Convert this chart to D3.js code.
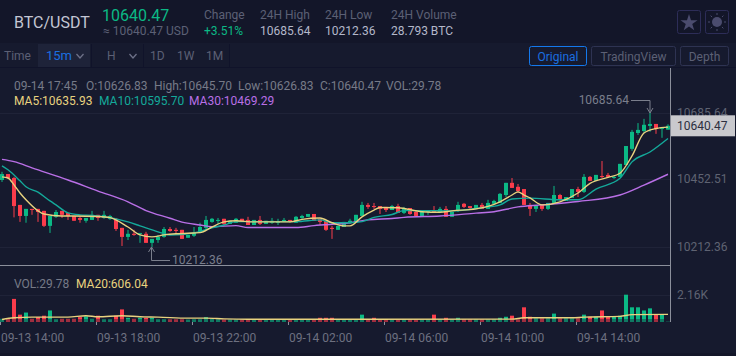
<!DOCTYPE html>
<html>
<head>
<meta charset="utf-8">
<script src="https://cdn.jsdelivr.net/npm/d3@7"></script>
<style>
html, body { margin: 0; padding: 0; background: #161a2e; overflow: hidden; }
svg { display: block; }
text { font-family: Roboto, sans-serif; }
</style>
</head>
<body>
<div id="chart"></div>
<script>
var w = 736;
var h = 356;

var opens = [10449,10470,10456,10361,10322,10347,10347,10340,10287,10319,
    10340,10333,10322,10315,10305,10308,10326,10315,10312,10312,
    10280,10248,10259,10259,10259,10227,10237,10248,10276,10273,
    10273,10245,10252,10262,10280,10301,10306,10312,10294,10298,
    10312,10308,10290,10308,10294,10298,10300,10301,10308,10298,
    10315,10319,10329,10312,10305,10280,10273,10283,10298,10298,
    10322,10361,10357,10357,10354,10343,10357,10333,10350,10336,
    10322,10336,10340,10336,10347,10319,10340,10365,10357,10350,
    10361,10347,10365,10368,10396,10439,10425,10417,10361,10347,
    10361,10347,10368,10396,10375,10386,10417,10407,10460,10446,
    10463,10467,10456,10460,10502,10559,10615,10622,10640,10647,10630,10626.83];
var closes = [10470,10456,10357,10322,10347,10343,10336,10287,10322,10336,
    10326,10322,10305,10308,10315,10326,10315,10326,10322,10276,
    10248,10259,10255,10262,10227,10241,10248,10276,10269,10269,
    10241,10255,10262,10283,10308,10312,10308,10294,10305,10312,
    10301,10290,10308,10294,10305,10305,10301,10308,10301,10319,
    10322,10329,10305,10301,10273,10276,10287,10301,10305,10326,
    10361,10354,10354,10347,10343,10357,10333,10350,10329,10322,
    10336,10340,10336,10347,10319,10336,10361,10354,10350,10361,
    10347,10368,10375,10400,10439,10421,10410,10361,10347,10361,
    10347,10368,10396,10382,10389,10417,10407,10460,10446,10467,
    10460,10460,10460,10506,10569,10619,10626,10644,10647,10629,10633,10640.47];
var highs = [10478,10470,10460,10361,10347,10347,10347,10340,10322,10343,
    10340,10333,10322,10322,10315,10340,10326,10340,10326,10315,
    10280,10273,10273,10262,10266,10241,10255,10283,10283,10280,
    10273,10255,10283,10298,10322,10315,10315,10312,10305,10315,
    10312,10319,10308,10322,10305,10315,10312,10315,10308,10322,
    10326,10329,10329,10312,10305,10287,10287,10301,10312,10326,
    10372,10368,10368,10357,10354,10361,10365,10354,10350,10340,
    10336,10343,10357,10354,10357,10336,10372,10368,10357,10361,
    10368,10379,10379,10403,10439,10456,10435,10417,10368,10361,
    10361,10368,10428,10400,10389,10417,10425,10470,10463,10467,
    10516,10474,10463,10506,10569,10626,10650,10665,10685.64,10647,10633,10645.70];
var lows = [10442,10453,10317,10301,10298,10326,10301,10283,10262,10315,
    10315,10308,10305,10298,10298,10308,10305,10312,10308,10269,
    10216,10237,10252,10227,10227,10212.36,10227,10245,10266,10262,
    10241,10245,10248,10262,10276,10298,10294,10287,10294,10298,
    10301,10290,10290,10290,10294,10294,10290,10301,10298,10298,
    10312,10319,10305,10290,10269,10241,10273,10283,10294,10298,
    10322,10347,10347,10329,10336,10343,10333,10329,10326,10319,
    10322,10326,10333,10336,10319,10319,10336,10350,10343,10350,
    10347,10347,10365,10368,10389,10421,10403,10361,10322,10336,
    10340,10343,10365,10375,10375,10386,10389,10403,10446,10446,
    10456,10456,10453,10460,10502,10552,10608,10615,10619,10612,10598,10626.83];
var volumes = [250,250,1848,588,756,252,392,504,924,220,
    252,252,252,392,448,252,504,220,220,504,
    1008,336,252,336,336,336,220,224,220,220,
    220,200,224,224,392,252,224,200,200,200,
    200,200,200,200,200,200,200,200,200,224,
    200,224,224,336,336,336,220,220,220,224,
    588,224,336,220,220,220,200,200,200,200,
    200,220,588,220,336,220,336,224,220,220,
    220,220,224,336,420,504,224,1176,420,280,
    280,280,672,280,280,280,280,588,420,420,
    924,420,420,504,2184,1176,1176,924,1092,588,588,29.78];

var ma5At = [0,1,2,3,4,6,7,10,12,16,18,21,23,25,27,29,32,33,35,37,39,42,45,48,50,53,55,57,58,60,62,63,66,70,73,75,79,81,83,85,86,87,88,90,93,96,98,101,103,105,107,109,111];
var ma5 = [10460,10456,10432,10403,10379,10340,10329,10322,10322,10320,10316,10283,10255,10248,10255,10259,10262,10263,10283,10301,10305,10301,10301,10301,10310,10315,10298,10287,10287,10319,10343,10352,10351,10337,10335,10340,10347,10356,10372,10396,10407,10396,10386,10361,10372,10403,10437,10458,10473,10534,10615,10631,10635.93];
var ma10At = [0,1,3,4,6,8,9,11,13,15,17,21,23,26,28,32,35,37,39,45,49,53,55,58,60,62,65,67,70,75,80,83,85,88,93,96,99,103,105,108,111];
var ma10 = [10499,10485,10446,10425,10406,10375,10361,10333,10326,10324,10319,10301,10287,10266,10255,10262,10280,10290,10302,10302,10302,10308,10298,10298,10302,10317,10327,10341,10341,10340,10351,10361,10382,10385,10379,10379,10417,10455,10513,10548,10595.70];
var ma30At = [0,2,5,11,16,21,24,28,30,33,35,39,41,49,52,58,61,65,67,73,79,82,86,90,96,103,107,111];
var ma30 = [10522,10514,10492,10449,10410,10372,10341,10314,10300,10290,10284,10288,10281,10281,10288,10298,10308,10313,10317,10322,10332,10337,10354,10361,10373,10396,10431,10469.29];
var volMaAt = [0,2,5,11,14,16,20,23,26,31,34,37,41,49,61,85,87,95,97,103,105,111];
var volMa = [196,336,392,392,504,420,504,420,392,308,308,252,220,220,220,230,336,336,392,448,588,606.04];

var priceTicks = [10212.36, 10452.51, 10685.64];
var volumeTicks = [2160];
var timeTicks = [0, 16, 32, 48, 64, 80, 96];
var timeLabels = ["09-13 14:00", "09-13 18:00", "09-13 22:00", "09-14 02:00", "09-14 06:00", "09-14 10:00", "09-14 14:00"];

var green = "#0bb985";
var red = "#fa3c4b";
var dim = "#5c6075";
var lineGrey = "#8b8f9b";
var gridColor = "#1f2338";
var colorMa5 = "#e8d27f";
var colorMa10 = "#14a99a";
var colorMa30 = "#b96fe6";

var svg = d3.select("#chart")
    .append("svg")
    .attr("width", w)
    .attr("height", h);

// backgrounds
svg.append("rect").attr("width", w).attr("height", h).attr("fill", "#161a2e");
svg.append("rect").attr("width", w).attr("height", 43).attr("fill", "#131629");
svg.append("rect").attr("y", 353).attr("width", w).attr("height", 3).attr("fill", "#131629");
svg.append("rect").attr("y", 67).attr("width", w).attr("height", 1).attr("fill", "#10132a");

function label(x, y, str, color, size, weight) {
    return svg.append("text")
        .attr("x", x)
        .attr("y", y)
        .attr("fill", color)
        .attr("font-size", size || 12)
        .attr("font-weight", weight || 400)
        .text(str);
}

// header
label(14, 28, "BTC/USDT", "#c3c6d4", 16);
label(102, 21, "10640.47", green, 16);
label(103, 35, "≈ 10640.47 USD", dim, 12);
label(204, 19, "Change", dim, 12);
label(204, 35, "+3.51%", green, 12);
label(260, 19, "24H High", dim, 12);
label(260, 35, "10685.64", "#b4b8ca", 12);
label(325, 19, "24H Low", dim, 12);
label(325, 35, "10212.36", "#b4b8ca", 12);
label(391, 19, "24H Volume", dim, 12);
label(391, 35, "28.793 BTC", "#b4b8ca", 12);

[677.5, 705.5].forEach(function(x) {
    svg.append("rect")
        .attr("x", x).attr("y", 10.5)
        .attr("width", 23).attr("height", 23).attr("rx", 2)
        .attr("fill", "none").attr("stroke", "#2d2d58");
});
svg.append("path")
    .attr("d", d3.symbol().type(d3.symbolStar).size(90)())
    .attr("transform", "translate(689,23)")
    .attr("fill", "#4b4c6e");
svg.append("circle").attr("cx", 717).attr("cy", 22).attr("r", 5).attr("fill", "#4b4c6e");
d3.range(8).forEach(function(k) {
    var a = k * Math.PI / 4;
    svg.append("line")
        .attr("x1", 717 + 7 * Math.cos(a)).attr("y1", 22 + 7 * Math.sin(a))
        .attr("x2", 717 + 9 * Math.cos(a)).attr("y2", 22 + 9 * Math.sin(a))
        .attr("stroke", "#4b4c6e");
});

// toolbar
svg.append("rect").attr("x", 38).attr("y", 44).attr("width", 52).attr("height", 23).attr("fill", "#1e2339");
[91, 143, 229].forEach(function(x) {
    svg.append("rect").attr("x", x).attr("y", 44).attr("width", 1).attr("height", 23).attr("fill", "#10132a");
});
label(4, 60, "Time", dim, 12);
label(46, 60, "15m", "#1a6fe0", 13);
label(107, 60, "H", dim, 12);
label(150, 60, "1D", dim, 12);
label(177, 60, "1W", dim, 12);
label(206, 60, "1M", dim, 12);
[80, 133].forEach(function(x) {
    svg.append("path")
        .attr("d", d3.line()([[x - 3.5, 54], [x, 58], [x + 3.5, 54]]))
        .attr("fill", "none").attr("stroke", "#6d7188").attr("stroke-width", 1.3);
});

var buttons = ["Original", "TradingView", "Depth"];
var buttonX = [529.5, 591.5, 680.5];
var buttonW = [57, 84, 48];
buttons.forEach(function(b, k) {
    var on = k == 0;
    svg.append("rect")
        .attr("x", buttonX[k]).attr("y", 46.5)
        .attr("width", buttonW[k]).attr("height", 19).attr("rx", 2)
        .attr("fill", "none")
        .attr("stroke", on ? "#1478ec" : "#2e3352");
    label(buttonX[k] + buttonW[k] / 2, 61, b, on ? "#1a6fe0" : dim, 12).attr("text-anchor", "middle");
});

// info lines
var infoColor = "#767a88";
label(14, 90, "09-14 17:45", infoColor);
label(86, 90, "O:10626.83", infoColor);
label(154, 90, "High:10645.70", infoColor);
label(238, 90, "Low:10626.83", infoColor);
label(320, 90, "C:10640.47", infoColor);
label(386, 90, "VOL:29.78", infoColor);
label(14, 105, "MA5:10635.93", colorMa5);
label(99, 105, "MA10:10595.70", colorMa10);
label(189, 105, "MA30:10469.29", colorMa30);
label(14, 288, "VOL:29.78", infoColor);
label(76, 288, "MA20:606.04", colorMa5);

// scales: x gives the left edge of a candle's 4px wide slot
var x = d3.scaleLinear().domain([0, 111]).range([0, 666]);
var y = d3.scaleLinear().domain([10212.36, 10685.64]).range([247, 113]);
var yVol = d3.scaleLinear().domain([0, 2160]).range([322, 295]);
var candleW = 4;

function cx(i) { return x(i) + candleW / 2; }

var yAxis = d3.axisRight(y)
    .tickValues(priceTicks)
    .tickFormat(d3.format(".2f"))
    .tickSize(-670)
    .tickPadding(7);
var yAxisG = svg.append("g").attr("transform", "translate(670,0)").call(yAxis);

var volAxis = d3.axisRight(yVol)
    .tickValues(volumeTicks)
    .tickFormat(function(d) { return (d / 1000).toFixed(2) + "K"; })
    .tickSize(-670)
    .tickPadding(7);
var volAxisG = svg.append("g").attr("transform", "translate(670,0)").call(volAxis);

[yAxisG, volAxisG].forEach(function(g) {
    g.select(".domain").remove();
    g.selectAll("line").attr("stroke", gridColor);
    g.selectAll("text").attr("fill", "#5f6372").attr("font-size", 12).attr("font-family", "Roboto, sans-serif");
});

var idx = d3.range(opens.length);
var isUp = function(i) { return closes[i] >= opens[i]; };

// candles
var candles = svg.append("g").attr("class", "candles");
candles.selectAll("line")
    .data(idx)
    .enter()
    .append("line")
    .attr("x1", cx).attr("x2", cx)
    .attr("y1", function(i) { return y(highs[i]); })
    .attr("y2", function(i) { return y(lows[i]); })
    .attr("stroke", function(i) { return isUp(i) ? green : red; });
candles.selectAll("rect")
    .data(idx)
    .enter()
    .append("rect")
    .attr("x", x)
    .attr("width", candleW)
    .attr("y", function(i) { return y(Math.max(opens[i], closes[i])); })
    .attr("height", function(i) { return Math.max(1, Math.abs(y(opens[i]) - y(closes[i]))); })
    .attr("fill", function(i) { return isUp(i) ? green : red; });

// volume bars
svg.append("g").selectAll("rect")
    .data(idx)
    .enter()
    .append("rect")
    .attr("x", x)
    .attr("width", candleW)
    .attr("y", function(i) { return yVol(volumes[i]); })
    .attr("height", function(i) { return yVol(0) - yVol(volumes[i]); })
    .attr("fill", function(i) { return isUp(i) ? green : red; });

// the bottom of the volume bars looks darker in the original
svg.append("rect")
    .attr("x", 0).attr("y", yVol(0) - 3)
    .attr("width", 670).attr("height", 3)
    .attr("fill", "#161a2e").attr("opacity", 0.4);

function drawLine(at, vals, scale, color) {
    var line = d3.line()
        .x(function(d, k) { return cx(at[k]); })
        .y(function(d) { return scale(d); })
        .curve(d3.curveMonotoneX);
    svg.append("path")
        .attr("d", line(vals))
        .attr("fill", "none")
        .attr("stroke", color)
        .attr("stroke-width", 1.4);
}
drawLine(ma30At, ma30, y, colorMa30);
drawLine(ma10At, ma10, y, colorMa10);
drawLine(ma5At, ma5, y, colorMa5);
drawLine(volMaAt, volMa, yVol, colorMa5);

// panel lines
svg.append("line").attr("x1", 670.5).attr("x2", 670.5).attr("y1", 68).attr("y2", 322).attr("stroke", lineGrey);
svg.append("line").attr("x1", 0).attr("x2", 670).attr("y1", 265.5).attr("y2", 265.5).attr("stroke", lineGrey);

// time axis
var xAxis = d3.axisBottom(x)
    .tickValues(timeTicks)
    .tickFormat(function(d, k) { return timeLabels[k]; })
    .tickSize(3)
    .tickPadding(8);
var xAxisG = svg.append("g").attr("transform", "translate(0,322)").call(xAxis);
xAxisG.select(".domain").remove();
xAxisG.selectAll("line").attr("stroke", lineGrey);
xAxisG.selectAll("text")
    .attr("text-anchor", "start")
    .attr("x", 0.5)
    .attr("fill", "#6d7080")
    .attr("font-size", 12)
    .attr("font-family", "Roboto, sans-serif");

// high and low annotations
var annot = "#7a7e8c";
var hiX = cx(108), hiY = y(10685.64);
svg.append("path")
    .attr("d", d3.line()([[631, 100.5], [hiX, 100.5], [hiX, hiY]]))
    .attr("fill", "none").attr("stroke", annot);
svg.append("path")
    .attr("d", d3.line()([[hiX - 3, hiY - 5], [hiX, hiY], [hiX + 3, hiY - 5]]))
    .attr("fill", "none").attr("stroke", annot);
label(629, 104, "10685.64", annot).attr("text-anchor", "end");

var loX = cx(25) - 0.5, loY = y(10212.36);
svg.append("path")
    .attr("d", d3.line()([[loX, loY], [loX, 260.5], [170, 260.5]]))
    .attr("fill", "none").attr("stroke", annot);
svg.append("path")
    .attr("d", d3.line()([[loX - 3, loY + 5], [loX, loY], [loX + 3, loY + 5]]))
    .attr("fill", "none").attr("stroke", annot);
label(172, 264, "10212.36", annot);

// current price tag
svg.append("rect")
    .attr("x", 671).attr("y", y(10640.47) - 10.5)
    .attr("width", 64).attr("height", 21)
    .attr("fill", "#c9c9cd");
label(677, y(10640.47) + 4, "10640.47", "#2c2f40", 12);
</script>
</body>
</html>
